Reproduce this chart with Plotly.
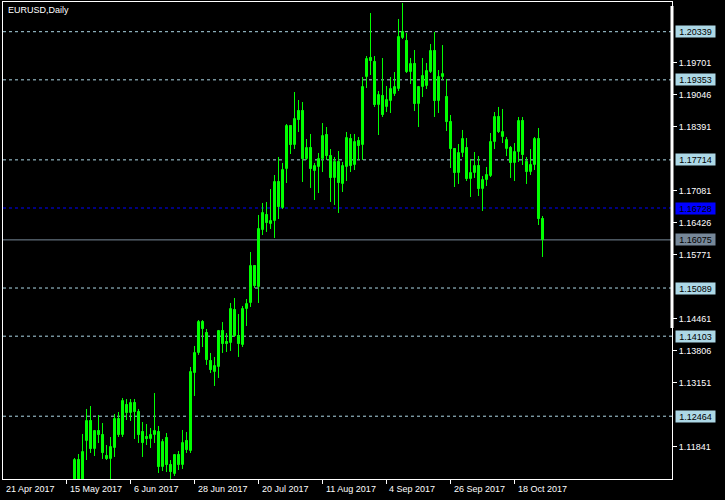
import pandas as pd
import plotly.graph_objects as go

chart_title = "EURUSD,Daily"
calendar_start = "2017-04-21"
first_bar_date = "2017-05-17"

opens = [1.10953, 1.11567, 1.11137, 1.11956, 1.12366, 1.11792, 1.12161, 1.12079, 1.11649, 1.11588,
         1.11813, 1.12407, 1.12079, 1.12694, 1.12530, 1.12735, 1.12550, 1.12141, 1.12038, 1.11997,
         1.12079, 1.12141, 1.11424, 1.12018, 1.11465, 1.11280, 1.11670, 1.11465, 1.11956, 1.11752,
         1.13349, 1.13759, 1.14393, 1.14168, 1.13595, 1.13369, 1.13472, 1.14209, 1.13984, 1.13963,
         1.14639, 1.14107, 1.13922, 1.14660, 1.14783, 1.15540, 1.15110, 1.16278, 1.16585, 1.16400,
         1.16462, 1.17261, 1.16728, 1.17527, 1.18408, 1.18018, 1.18715, 1.18715, 1.17732, 1.17957,
         1.17486, 1.17568, 1.17732, 1.18223, 1.17793, 1.17343, 1.17670, 1.17220, 1.17568, 1.18141,
         1.17609, 1.18100, 1.18018, 1.19411, 1.19800, 1.19718, 1.18838, 1.19022, 1.18797, 1.18920,
         1.19063, 1.19165, 1.20210, 1.20148, 1.19513, 1.19677, 1.18858, 1.19206, 1.19227, 1.19513,
         1.19944, 1.18920, 1.19411, 1.19001, 1.18489, 1.17936, 1.17445, 1.17855, 1.17957, 1.17322,
         1.17445, 1.17588, 1.17117, 1.17302, 1.17384, 1.18080, 1.18592, 1.18182, 1.17936, 1.17957,
         1.17650, 1.17875, 1.18510, 1.17670, 1.17465, 1.17609, 1.18141, 1.16503]
highs = [1.11608, 1.11690, 1.12100, 1.12612, 1.12673, 1.12182, 1.12489, 1.12325, 1.11874, 1.12038,
         1.12509, 1.12550, 1.12837, 1.12816, 1.12816, 1.12816, 1.12612, 1.12345, 1.12304, 1.12223,
         1.12939, 1.12264, 1.11997, 1.12120, 1.11567, 1.11670, 1.11752, 1.12182, 1.12141, 1.13472,
         1.13902, 1.14434, 1.14434, 1.14250, 1.13759, 1.13677, 1.14230, 1.14393, 1.14168, 1.14783,
         1.14885, 1.14557, 1.14721, 1.14864, 1.15827, 1.15561, 1.16585, 1.16831, 1.16851, 1.17117,
         1.17404, 1.17773, 1.17650, 1.18448, 1.18428, 1.19104, 1.18940, 1.18899, 1.18141, 1.18244,
         1.17650, 1.17855, 1.18469, 1.18387, 1.17936, 1.17773, 1.17896, 1.17670, 1.18285, 1.18244,
         1.18244, 1.18182, 1.19411, 1.19841, 1.20722, 1.19841, 1.19124, 1.19800, 1.19227, 1.19411,
         1.19513, 1.20599, 1.20927, 1.20312, 1.19800, 1.19964, 1.19227, 1.19800, 1.19698, 1.20087,
         1.20333, 1.19554, 1.20066, 1.19370, 1.18633, 1.17957, 1.18039, 1.18326, 1.18162, 1.17732,
         1.17875, 1.17793, 1.17384, 1.17568, 1.18264, 1.18694, 1.18797, 1.18756, 1.18182, 1.17998,
         1.18059, 1.18592, 1.18592, 1.17773, 1.17936, 1.18182, 1.18367, 1.16564]
lows = [1.10850, 1.11035, 1.11055, 1.11567, 1.11711, 1.11649, 1.11915, 1.11588, 1.11567, 1.11178,
        1.11629, 1.12038, 1.12038, 1.12386, 1.12366, 1.11997, 1.11915, 1.11629, 1.11874, 1.11813,
        1.11915, 1.11301, 1.11342, 1.11321, 1.11178, 1.11240, 1.11362, 1.11383, 1.11711, 1.11711,
        1.12878, 1.13718, 1.13881, 1.13513, 1.13349, 1.13083, 1.13247, 1.13759, 1.13779, 1.13800,
        1.14086, 1.13677, 1.13881, 1.14312, 1.14701, 1.15090, 1.14783, 1.16175, 1.16237, 1.16298,
        1.16114, 1.16503, 1.16708, 1.17240, 1.17834, 1.17936, 1.18285, 1.17261, 1.17711, 1.17138,
        1.16892, 1.17035, 1.17465, 1.17711, 1.16851, 1.16790, 1.16626, 1.17056, 1.17281, 1.17465,
        1.17506, 1.17711, 1.17711, 1.19186, 1.19452, 1.18797, 1.18223, 1.18592, 1.18694, 1.18674,
        1.19022, 1.19124, 1.20189, 1.19493, 1.19268, 1.18715, 1.18387, 1.19001, 1.19165, 1.19493,
        1.18592, 1.18674, 1.19350, 1.18305, 1.17547, 1.17158, 1.17220, 1.17773, 1.17281, 1.16953,
        1.17343, 1.16974, 1.16667, 1.17179, 1.17363, 1.17936, 1.18264, 1.18059, 1.17793, 1.17343,
        1.17281, 1.17670, 1.17609, 1.17220, 1.17404, 1.17506, 1.16380, 1.15725]
closes = [1.11567, 1.11137, 1.11731, 1.12366, 1.11792, 1.12161, 1.12079, 1.11711, 1.11588, 1.11833,
          1.12407, 1.12079, 1.12776, 1.12530, 1.12735, 1.12550, 1.12079, 1.11915, 1.11997, 1.12079,
          1.12161, 1.11424, 1.11936, 1.11465, 1.11321, 1.11670, 1.11465, 1.11915, 1.11772, 1.13369,
          1.13759, 1.14393, 1.14250, 1.13615, 1.13410, 1.13492, 1.14209, 1.13943, 1.13943, 1.14660,
          1.14107, 1.13943, 1.14660, 1.14762, 1.15540, 1.15131, 1.16298, 1.16626, 1.16421, 1.16462,
          1.17261, 1.16749, 1.17506, 1.18408, 1.18018, 1.18551, 1.18530, 1.17732, 1.17957, 1.17527,
          1.17588, 1.17732, 1.18203, 1.17793, 1.17343, 1.17670, 1.17240, 1.17588, 1.18162, 1.17588,
          1.18080, 1.17998, 1.19206, 1.19780, 1.19739, 1.18838, 1.19042, 1.18633, 1.18940, 1.19165,
          1.19206, 1.20230, 1.20333, 1.19513, 1.19677, 1.18858, 1.19206, 1.19432, 1.19534, 1.19944,
          1.18920, 1.19411, 1.19472, 1.18489, 1.17936, 1.17445, 1.17855, 1.18141, 1.17322, 1.17445,
          1.17588, 1.17117, 1.17302, 1.17404, 1.18080, 1.18592, 1.18285, 1.18285, 1.18121, 1.17650,
          1.17875, 1.18510, 1.17814, 1.17465, 1.17609, 1.18141, 1.16503, 1.16075]

date_tick_values = ["2017-04-21", "2017-05-15", "2017-06-06", "2017-06-28", "2017-07-20",
                    "2017-08-11", "2017-09-04", "2017-09-26", "2017-10-18"]
date_tick_labels = ["21 Apr 2017", "15 May 2017", "6 Jun 2017", "28 Jun 2017", "20 Jul 2017",
                    "11 Aug 2017", "4 Sep 2017", "26 Sep 2017", "18 Oct 2017"]

price_ticks = [1.19701, 1.19046, 1.18391, 1.17081, 1.16426, 1.15771, 1.14461, 1.13806, 1.13151, 1.11841]
level_lines = [1.20339, 1.19353, 1.17714, 1.15089, 1.14103, 1.12464]
marker_level = 1.16728
bid_level = 1.16075

# ---- build ----
calendar = pd.bdate_range(calendar_start, periods=400)
bar_dates = pd.bdate_range(first_bar_date, periods=len(opens))
xs = [calendar.get_loc(d) for d in bar_dates]
tick_x = [calendar.get_loc(pd.Timestamp(d)) for d in date_tick_values]

X_RANGE = [0.125, 167.375]
Y_RANGE = [1.11178, 1.20947]
GREEN = "#00FF00"
FONT = "Liberation Sans"

wx, wy = [], []
for x, h, l in zip(xs, highs, lows):
    wx += [x, x, None]
    wy += [l, h, None]

bull = [(x, o, c) for x, o, c in zip(xs, opens, closes) if c >= o]
bear = [(x, o, c) for x, o, c in zip(xs, opens, closes) if c < o]

fig = go.Figure()
fig.add_trace(go.Scatter(x=wx, y=wy, mode="lines", line=dict(color=GREEN, width=1),
                         hoverinfo="skip", showlegend=False))
fig.add_trace(go.Bar(x=[b[0] for b in bull], base=[b[1] for b in bull],
                     y=[b[2] - b[1] for b in bull], width=0.5,
                     marker=dict(color="black", line=dict(color=GREEN, width=1)),
                     showlegend=False))
fig.add_trace(go.Bar(x=[b[0] for b in bear], base=[b[2] for b in bear],
                     y=[b[1] - b[2] for b in bear], width=0.5,
                     marker=dict(color="white", line=dict(color=GREEN, width=1)),
                     showlegend=False))

shapes = []
for lv in level_lines:
    shapes.append(dict(type="line", xref="paper", yref="y", x0=0, x1=1, y0=lv, y1=lv,
                       line=dict(color="#ADD8E6", width=1, dash="3px,3px"), layer="below"))
shapes.append(dict(type="line", xref="paper", yref="y", x0=0, x1=1, y0=marker_level, y1=marker_level,
                   line=dict(color="#0000FF", width=1, dash="3px,3px"), layer="below"))
shapes.append(dict(type="line", xref="paper", yref="y", x0=0, x1=1, y0=bid_level, y1=bid_level,
                   line=dict(color="#778899", width=1), layer="below"))
shapes.append(dict(type="line", xref="paper", yref="paper", x0=1, x1=1, y0=0.3166, y1=0.9916,
                   line=dict(color="white", width=3)))

annotations = [dict(text=chart_title, xref="paper", yref="paper", x=0, y=1, xanchor="left",
                    yanchor="middle", xshift=3, yshift=-8, showarrow=False,
                    font=dict(family=FONT, size=9, color="white"))]
for tx, tl in zip(tick_x, date_tick_labels):
    px = (tx - X_RANGE[0]) / (X_RANGE[1] - X_RANGE[0])
    annotations.append(dict(text=tl, xref="paper", yref="paper", x=px, y=0, xanchor="left",
                            yanchor="middle", xshift=1, yshift=-10, showarrow=False,
                            font=dict(family=FONT, size=9, color="white")))
box_levels = [(lv, "#ADD8E6") for lv in level_lines] + [(marker_level, "#0000FF"), (bid_level, "#778899")]
for lv, bg in box_levels:
    annotations.append(dict(text=f"{lv:.5f}", xref="paper", yref="y", x=1, y=lv, xanchor="left",
                            yanchor="middle", xshift=3, showarrow=False, bgcolor=bg,
                            width=37, height=9, borderpad=1, align="center",
                            font=dict(family=FONT, size=9, color="black")))

fig.update_layout(
    width=725, height=500,
    margin=dict(l=3, r=53, t=2, b=21),
    paper_bgcolor="black", plot_bgcolor="black",
    barmode="overlay", bargap=0,
    showlegend=False,
    shapes=shapes, annotations=annotations,
    xaxis=dict(range=X_RANGE, showgrid=False, zeroline=False,
               showline=True, mirror=True, linecolor="white", linewidth=1,
               tickmode="array", tickvals=tick_x, ticktext=["" for _ in tick_x],
               ticks="outside", ticklen=4, tickcolor="white", showticklabels=False),
    yaxis=dict(range=Y_RANGE, side="right", showgrid=False, zeroline=False,
               showline=True, mirror=True, linecolor="white", linewidth=1,
               tickmode="array", tickvals=price_ticks,
               ticktext=[f"{v:.5f}" for v in price_ticks],
               ticks="outside", ticklen=4, tickcolor="white",
               tickfont=dict(family=FONT, size=9, color="white")),
)

fig.write_html("out.html", config={"displayModeBar": False},
               post_script="document.body.style.margin='0';document.body.style.padding='0';"
                           "document.body.style.background='black';")
